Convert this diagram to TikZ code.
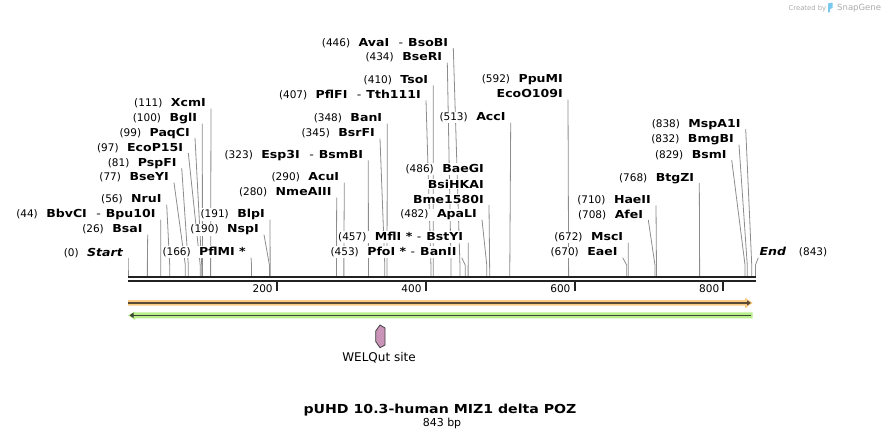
\documentclass[tikz,border=0pt]{standalone}
\usepackage{fontspec}
\setmainfont{DejaVu Sans}
\newfontfamily\enzfont[FakeStretch=1.14]{DejaVu Sans}
\usepackage{tikz}
\usetikzlibrary{arrows.meta,backgrounds}

\definecolor{sitegray}{RGB}{140,140,140}
\definecolor{barblack}{RGB}{34,34,34}
\definecolor{featorange}{RGB}{250,202,128}
\definecolor{featgreen}{RGB}{184,238,140}
\definecolor{orangeline}{RGB}{90,75,55}
\definecolor{greenline}{RGB}{60,70,50}
\definecolor{welqpink}{RGB}{201,148,184}
\definecolor{creditgray}{RGB}{170,170,170}
\definecolor{snapblue}{RGB}{120,200,240}

\newcommand{\enzname}[1]{{\fontsize{11}{12}\selectfont\enzfont\bfseries #1}}
\newcommand{\enzsep}{\hspace{9.5pt}{\mdseries -}\hspace{5pt}}
\newcommand{\enzsepb}{\hspace{4.5pt}{\mdseries -}\hspace{5pt}}

\begin{document}
\begin{tikzpicture}[x=1pt,y=-1pt]
  \tikzstyle{every node}=[inner xsep=1pt, inner ysep=1pt]
  \tikzstyle{enz}=[fill=white, anchor=base east, font=\fontsize{10.5}{12}\selectfont]
  \tikzstyle{siteline}=[draw=sitegray, line width=0.8pt]
  \useasboundingbox (0,0) rectangle (885,439);

  \draw[barblack, line width=2.7pt] (128,277) -- (756,277);
  \draw[barblack, line width=2pt] (128,280.7) -- (756,280.7);
  \foreach \t in {200,400,600,800} {
    \coordinate (tick\t) at ({128+0.7443*\t},281);
    \draw[barblack, line width=2pt] (tick\t) -- ++(0,9.7);
    \node[anchor=base east, font=\fontsize{10.5}{12}\selectfont] (lab\t) at ([xshift=-3pt,yshift=-11.3pt]tick\t) {\t};
  }

  \foreach \id/\pos/\lx/\by/\nm in {start/0/128/256/{\itshape Start},
      BsaI/26/147.7/232.7/BsaI, BbvCI/44/160.7/217.7/{BbvCI\enzsep Bpu10I},
      NruI/56/166.7/202.7/NruI, BseYI/77/174/180.7/BseYI, PspFI/81/181.7/166/PspFI,
      EcoP15I/97/188.3/151/EcoP15I, PaqCI/99/195/136/PaqCI, BglI/100/202.3/121.7/BglI,
      XcmI/111/211/106.7/XcmI, PflMI/166/251/255.7/{PflMI *}, NspI/190/264/232.7/NspI,
      BlpI/191/270/217.7/BlpI, NmeAIII/280/336.7/195.7/NmeAIII, AcuI/290/344.3/180.7/AcuI,
      Esp3I/323/368.3/158.3/{Esp3I\enzsep BsmBI}, BsrFI/345/380/136.7/BsrFI,
      BanI/348/387.3/121.7/BanI, PflFI/407/426/98.3/{PflFI\enzsep Tth111I},
      TsoI/410/433.3/83.3/TsoI, BseRI/434/447.3/60.7/BseRI,
      AvaI/446/453.3/46/{AvaI\enzsep BsoBI}, PfoI/453/461.7/255.7/{PfoI *\enzsepb BanII},
      MflI/457/468.3/240.7/{MflI *\enzsepb BstYI}, ApaLI/482/482/217.7/ApaLI,
      AccI/513/510.7/120.7/AccI, EaeI/670/622.7/255.7/EaeI, MscI/672/628.3/240.7/MscI,
      AfeI/708/648.3/218/AfeI, HaeII/710/656/203.3/HaeII, BtgZI/768/699.3/181/BtgZI,
      BsmI/829/731.7/158/BsmI, BmgBI/832/739/142.7/BmgBI, MspA1I/838/745.7/127/MspA1I} {
    \coordinate (s\id) at ({128+0.7443*\pos},276);
    \node[enz] (\id) at (\lx-4,\by) {(\pos)\hspace{8.5pt}\enzname{\nm}};
    \begin{pgfonlayer}{background}
      \draw[siteline] ([xshift=4pt,yshift=-2pt]\id.base east) -- ([yshift=11pt]s\id) -- (s\id);
    \end{pgfonlayer}
  }

  \coordinate (sBme) at ({128+0.7443*486},276);
  \node[enz] (Bme1580I) at (485,203) {\enzname{Bme1580I}};
  \node[enz] (BsiHKAI) at ([yshift=15pt]Bme1580I.base east) {\enzname{BsiHKAI}};
  \node[enz] (BaeGI) at ([yshift=15.7pt]BsiHKAI.base east) {(486)\hspace{8.5pt}\enzname{BaeGI}};
  \coordinate (sEco) at ({128+0.7443*592},276);
  \node[enz] (EcoO109I) at (564,97.7) {\enzname{EcoO109I}};
  \node[enz] (PpuMI) at ([yshift=15pt]EcoO109I.base east) {(592)\hspace{8.5pt}\enzname{PpuMI}};
  \coordinate (sEnd) at ({128+0.7443*843},276);
  \node[enz, anchor=base west] (end) at (758.3,255.7) {\enzname{\itshape End}\hspace{13pt}(843)};
  \begin{pgfonlayer}{background}
    \draw[siteline] ([xshift=4pt,yshift=-2pt]Bme1580I.base east) -- (sBme);
    \draw[siteline] ([xshift=4pt,yshift=-2pt]EcoO109I.base east) -- (sEco);
    \draw[siteline] ([yshift=-2pt]end.base west) -- ([yshift=11pt]sEnd) -- (sEnd);
  \end{pgfonlayer}

  \fill[featorange] (128,300) -- (745,300) -- (745,297.7) -- (752.7,302.9) -- (745,308.3) -- (745,305.7) -- (128,305.7) -- cycle;
  \draw[orangeline, line width=1.5pt, -{Triangle[length=4pt,width=5pt]}] (128,302.9) -- (751,302.9);
  \fill[featgreen] (752.7,312.3) -- (135,312.3) -- (135,311.5) -- (128,315.3) -- (135,320) -- (135,318.3) -- (752.7,318.3) -- cycle;
  \draw[greenline, line width=1.5pt, -{Triangle[length=4pt,width=5pt]}] (751,315.3) -- (129.5,315.3);

  \filldraw[fill=welqpink, draw=darkgray, line width=0.8pt] (380,325) -- (385,328) -- (385,345) -- (380,347.7) -- (375.7,341.5) -- (375.7,331) -- cycle;
  \node[anchor=base, font=\fontsize{12}{14}\selectfont] (welq) at (379,361) {WELQut site};

  \node[anchor=base, font=\fontsize{12.4}{14}\selectfont\enzfont\bfseries] (title) at (440,413.3) {pUHD 10.3-human MIZ1 delta POZ};
  \node[anchor=base, font=\fontsize{11}{13}\selectfont] (length) at (442,426) {843 bp};

  \node[anchor=base west, text=creditgray, font=\fontsize{6.8}{8}\selectfont] (credit) at (787.5,10) {Created by};
  \fill[snapblue] (828,3.5) -- (832.5,2.5) -- (832.5,8) -- (830,9) -- (830,12) -- (828,12.5) -- cycle;
  \node[anchor=base west, text=creditgray, font=\fontsize{8.5}{10}\selectfont] (snapgene) at (836,10.5) {SnapGene};
\end{tikzpicture}
\end{document}
